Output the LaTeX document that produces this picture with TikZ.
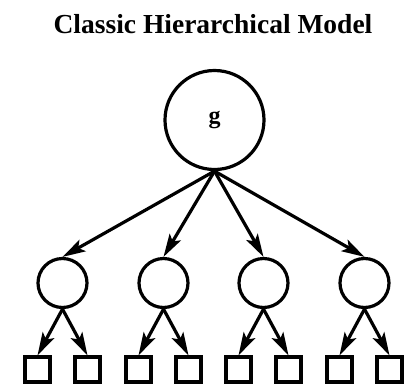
\documentclass[tikz,border=0pt]{standalone}
\usepackage{fontspec}
\setmainfont{Liberation Serif}
\usetikzlibrary{arrows.meta}
\begin{document}
\begin{tikzpicture}[x=1pt,y=-1pt,
  bigc/.style={circle,draw,line width=3.2pt,minimum size=99pt,inner sep=0pt,font=\bfseries\fontsize{24}{28}\selectfont},
  midc/.style={circle,draw,line width=3.2pt,minimum size=49pt,inner sep=0pt},
  leaf/.style={rectangle,draw,line width=3.2pt,minimum size=25pt,inner sep=0pt},
  conn/.style={line width=3.2pt,-{Stealth[length=23pt,width=13pt,inset=5pt]}}]
\useasboundingbox (0,0) rectangle (413,384);
\node[font=\bfseries\fontsize{27.5}{30}\selectfont,anchor=base] (title) at (213,33) {Classic Hierarchical Model};
\node[bigc] (g) at (214.5,120) {g};
\foreach \i/\x in {1/62.5,2/163.5,3/263.5,4/364.5}{
  \node[midc] (m\i) at (\x,283) {};
  \node[leaf] (l\i a) at (\x-25,369.5) {};
  \node[leaf] (l\i b) at (\x+25,369.5) {};
  \draw[conn] (g.south) -- (m\i.north);
  \draw[conn] (m\i.south) -- (l\i a.north);
  \draw[conn] (m\i.south) -- (l\i b.north);
}
\end{tikzpicture}
\end{document}
